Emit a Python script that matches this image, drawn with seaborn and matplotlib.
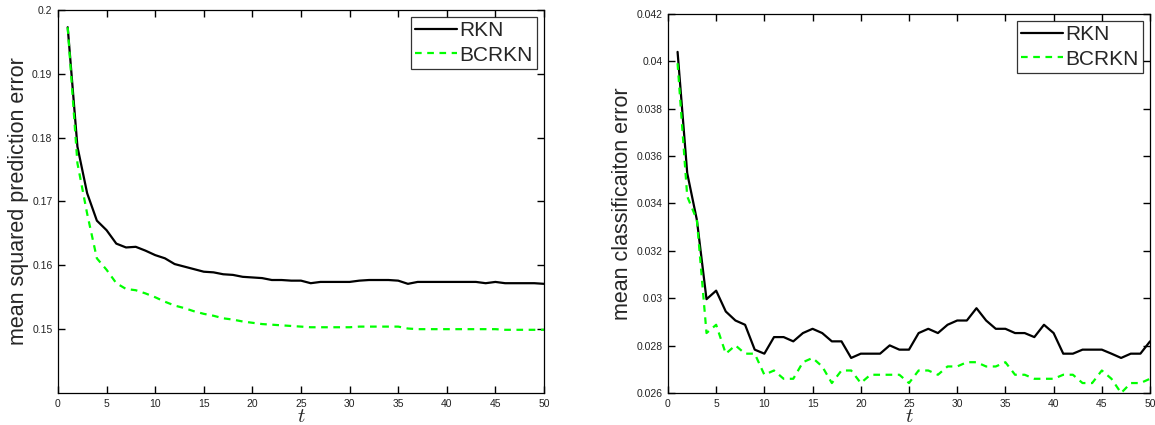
import numpy as np
import pandas as pd
import seaborn as sns
import matplotlib
matplotlib.use('Agg')
from matplotlib import pyplot as plt
import matplotlib.ticker as ticker

# iterations
t = list(range(1, 51))

# mean squared prediction error (left panel)
mse_rkn = [0.1973, 0.1786, 0.1713, 0.1670, 0.1655, 0.1634, 0.1628, 0.1629, 0.1623, 0.1616,
           0.1611, 0.1602, 0.1598, 0.1594, 0.1590, 0.1589, 0.1586, 0.1585, 0.1582, 0.1581,
           0.1580, 0.1577, 0.1577, 0.1576, 0.1576, 0.1572, 0.1574, 0.1574, 0.1574, 0.1574,
           0.1576, 0.1577, 0.1577, 0.1577, 0.1576, 0.1571, 0.1574, 0.1574, 0.1574, 0.1574,
           0.1574, 0.1574, 0.1574, 0.1572, 0.1574, 0.1572, 0.1572, 0.1572, 0.1572, 0.1571]
mse_bcrkn = [0.1973, 0.1760, 0.1681, 0.1611, 0.1593, 0.1572, 0.1563, 0.1561, 0.1556, 0.1550,
             0.1543, 0.1537, 0.1533, 0.1528, 0.1524, 0.1521, 0.1517, 0.1515, 0.1512, 0.1510,
             0.1508, 0.1507, 0.1506, 0.1505, 0.1504, 0.1503, 0.1503, 0.1503, 0.1503, 0.1503,
             0.1504, 0.1504, 0.1504, 0.1504, 0.1504, 0.1501, 0.1500, 0.1500, 0.1500, 0.1500,
             0.1500, 0.1500, 0.1500, 0.1500, 0.1500, 0.1499, 0.1499, 0.1499, 0.1499, 0.1499]

# mean classification error (right panel)
mce_rkn = [0.0404, 0.03528, 0.03331, 0.02996, 0.03032, 0.02944, 0.02906, 0.02888, 0.02783, 0.02766,
           0.02836, 0.02836, 0.02818, 0.02853, 0.02871, 0.02853, 0.02818, 0.02818, 0.02748, 0.02766,
           0.02766, 0.02766, 0.02801, 0.02783, 0.02783, 0.02853, 0.02871, 0.02853, 0.02888, 0.02906,
           0.02906, 0.02958, 0.02906, 0.02871, 0.02871, 0.02853, 0.02853, 0.02836, 0.02888, 0.02853,
           0.02766, 0.02766, 0.02783, 0.02783, 0.02783, 0.02766, 0.02748, 0.02766, 0.02766, 0.02818]
mce_bcrkn = [0.03992, 0.03430, 0.03331, 0.02853, 0.02888, 0.02766, 0.02801, 0.02766, 0.02766, 0.02677,
             0.02695, 0.02660, 0.02660, 0.02730, 0.02748, 0.02712, 0.02642, 0.02695, 0.02695, 0.02642,
             0.02677, 0.02677, 0.02677, 0.02677, 0.02642, 0.02695, 0.02695, 0.02677, 0.02712, 0.02712,
             0.02730, 0.02730, 0.02712, 0.02712, 0.02730, 0.02677, 0.02677, 0.02660, 0.02660, 0.02660,
             0.02677, 0.02677, 0.02642, 0.02642, 0.02695, 0.02660, 0.02600, 0.02642, 0.02642, 0.02660]

methods = ['RKN', 'BCRKN']

sns.set_style('ticks', {'xtick.direction': 'in', 'ytick.direction': 'in',
                        'xtick.top': True, 'ytick.right': True})
plt.rcParams['font.family'] = ['Liberation Sans', 'DejaVu Sans']
plt.rcParams['mathtext.fontset'] = 'cm'


def _panel(ax, y_rkn, y_bcrkn, ylabel, ylim, yticks):
    df = pd.DataFrame({'t': t + t,
                       'err': y_rkn + y_bcrkn,
                       'method': [methods[0]] * len(t) + [methods[1]] * len(t)})
    sns.lineplot(data=df, x='t', y='err', hue='method', style='method',
                 palette={'RKN': 'black', 'BCRKN': '#00ff00'},
                 dashes={'RKN': '', 'BCRKN': (3, 2.5)},
                 linewidth=1.6, ax=ax)
    ax.set_xlim(0, 50)
    ax.set_ylim(*ylim)
    ax.set_xticks(range(0, 51, 5))
    ax.set_yticks(yticks)
    ax.yaxis.set_major_formatter(ticker.FormatStrFormatter('%g'))
    ax.tick_params(which='major', direction='in', bottom=True, left=True, top=True, right=True,
                   length=5, width=1.0, labelsize=7.5, color='black', labelcolor='#222222', pad=4)
    for s in ax.spines.values():
        s.set_visible(True)
        s.set_color('black')
        s.set_linewidth(0.9)
    ax.set_xlabel('$t$', fontsize=15, labelpad=-1)
    ax.set_ylabel(ylabel, fontsize=15.5, labelpad=2)
    leg = ax.legend(loc='upper right', fontsize=15, frameon=True, fancybox=False,
                    borderpad=0.2, handlelength=2.0, handletextpad=0.1,
                    labelspacing=0.25, borderaxespad=0.35)
    leg.get_frame().set_edgecolor('black')
    leg.get_frame().set_linewidth(0.9)
    for ln in leg.get_lines():
        ln.set_linewidth(1.6)


fig = plt.figure(figsize=(11.55, 4.25), dpi=100)
ax1 = fig.add_axes([0.0502, 0.0753, 0.4208, 0.9012])
ax2 = fig.add_axes([0.5783, 0.0753, 0.4174, 0.8918])

_panel(ax1, mse_rkn, mse_bcrkn, 'mean squared prediction error',
       (0.14, 0.2), np.round(np.arange(0.15, 0.2001, 0.01), 3))
_panel(ax2, mce_rkn, mce_bcrkn, 'mean classificaiton error',
       (0.026, 0.042), np.round(np.arange(0.026, 0.0421, 0.002), 3))

fig.savefig('out.png', dpi=100)
plt.close()
